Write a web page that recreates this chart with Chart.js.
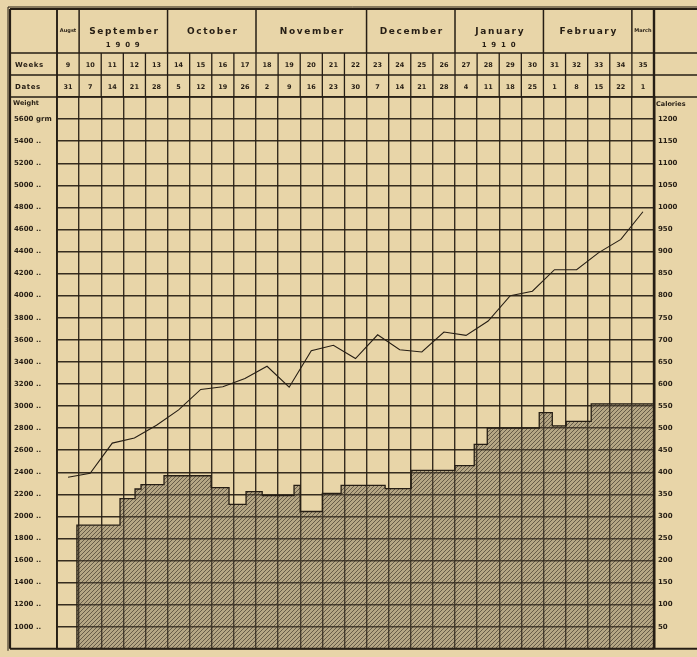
<!DOCTYPE html>
<html><head><meta charset="utf-8">
<script src="https://cdn.jsdelivr.net/npm/chart.js@4.4.0/dist/chart.umd.min.js"></script>
<style>html,body{margin:0;padding:0;background:#e8d5a8;}canvas{display:block}</style>
</head><body>
<canvas id="c" width="697" height="657"></canvas>
<script>
// ---------- data ----------
const weeks = [9,10,11,12,13,14,15,16,17,18,19,20,21,22,23,24,25,26,27,28,29,30,31,32,33,34,35];
const dates = ["31","7","14","21","28","5","12","19","26","2","9","16","23","30","7","14","21","28","4","11","18","25","1","8","15","22","1"];
const monthNames = ["Augst","September","October","November","December","January","February","March"];
const monthYears = ["","1 9 0 9","","","","1 9 1 0","",""];
const monthFirstWeek = [9,10,14,18,23,27,31,35];
const monthLastWeek = [9,13,17,22,26,30,34,35];
// weight (grams), one value per week
const weights = [2355,2390,2664,2710,2825,2965,3150,3175,3250,3360,3170,3500,3550,3430,3645,3510,3490,3670,3640,3770,4000,4040,4235,4235,4390,4510,4760];
// calories, step function: week position where each step starts, and its value
const calorieStepWeek  = [9.4,9.4,11.35,12.03,12.3,13.34,15.47,16.28,17.05,17.78,19.22,19.5,20.5,21.35,23.34,24.52,26.5,27.37,27.96,30.31,30.9,31.53,32.66,35.5];
const calorieStepValue = [0,280,340,362,372,392,365,327,356,347,370,311,352,370,363,404,415,463,500,535,505,515,555,555];
const weightTickValues = [5600,5400,5200,5000,4800,4600,4400,4200,4000,3800,3600,3400,3200,3000,2800,2600,2400,2200,2000,1800,1600,1400,1200,1000];
const weightTickLabels = ["5600 grm","5400 ..","5200 ..","5000 ..","4800 ..","4600 ..","4400 ..","4200 ..","4000 ..","3800 ..","3600 ..","3400 ..","3200 ..","3000 ..","2800 ..","2600 ..","2400 ..","2200 ..","2000 ..","1800 ..","1600 ..","1400 ..","1200 ..","1000 .."];
const calorieTickValues = [1200,1150,1100,1050,1000,950,900,850,800,750,700,650,600,550,500,450,400,350,300,250,200,150,100,50];
const calorieTickLabels = ["1200","1150","1100","1050","1000","950","900","850","800","750","700","650","600","550","500","450","400","350","300","250","200","150","100","50"];

// ---------- style ----------
const INK = '#261e14';
const FONT = '"DejaVu Sans", "Liberation Sans", sans-serif';
const canvas = document.getElementById('c');
const ctx0 = canvas.getContext('2d');
function hatch(){
  const c = document.createElement('canvas'); c.width = 4; c.height = 4;
  const g = c.getContext('2d');
  g.fillStyle = 'rgba(105,96,78,0.40)'; g.fillRect(0,0,4,4);
  g.strokeStyle = 'rgba(35,29,20,0.6)'; g.lineWidth = 0.9;
  g.beginPath();
  g.moveTo(0,4); g.lineTo(4,0);
  g.moveTo(-2,2); g.lineTo(2,-2);
  g.moveTo(2,6); g.lineTo(6,2);
  g.stroke();
  return ctx0.createPattern(c,'repeat');
}

const headerPlugin = {
  id: 'header',
  afterDraw(chart){
    const {ctx, chartArea: ca, scales: {x}} = chart;
    const W = chart.width, L = 10, T = 9, rW = 53, rD = 75;
    ctx.save();
    ctx.strokeStyle = INK; ctx.fillStyle = INK;
    const line = (x1,y1,x2,y2,w) => { ctx.lineWidth = w; ctx.beginPath(); ctx.moveTo(x1,y1); ctx.lineTo(x2,y2); ctx.stroke(); };
    line(L-2, T-2, W, T-2, 1);
    line(L-2, T-2, L-2, ca.bottom+2, 1);
    line(L, T, W, T, 2.2);
    line(L, T, L, ca.bottom, 2.2);
    line(L, rW, W, rW, 1.5);
    line(L, rD, W, rD, 1.5);
    line(L, ca.top, W, ca.top, 1.6);
    line(L, ca.bottom, W, ca.bottom, 2);
    line(ca.left, T, ca.left, ca.bottom, 1.6);
    line(ca.right, T, ca.right, ca.bottom, 2.4);
    weeks.forEach(w => { const xl = x.getPixelForValue(w - 0.5); line(xl, rW, xl, ca.top, 1.3); });
    monthFirstWeek.forEach(w => { const xl = x.getPixelForValue(w - 0.5); line(xl, T, xl, rW, 1.5); });
    ctx.textBaseline = 'middle'; ctx.textAlign = 'center';
    monthNames.forEach((m,i) => {
      const xa = x.getPixelForValue(monthFirstWeek[i] - 0.5), xb = x.getPixelForValue(monthLastWeek[i] + 0.5);
      const xc = (xa + xb) / 2;
      const small = monthFirstWeek[i] === monthLastWeek[i];
      if (small) { ctx.font = 'bold 5px ' + FONT; ctx.letterSpacing = '0px'; ctx.fillText(m, xc, 31); }
      else { ctx.font = 'bold 9px ' + FONT; ctx.letterSpacing = '1.6px'; ctx.fillText(m, xc + 1, 32); }
      if (monthYears[i]) { ctx.font = 'bold 7px ' + FONT; ctx.letterSpacing = '1.2px'; ctx.fillText(monthYears[i], xc, 45); }
    });
    ctx.letterSpacing = '0px';
    ctx.font = 'bold 6.5px ' + FONT;
    weeks.forEach((w,i) => {
      const xc = x.getPixelForValue(w);
      ctx.fillText(String(w), xc, 65);
      ctx.fillText(dates[i], xc, 87);
    });
    ctx.textAlign = 'left'; ctx.font = 'bold 7px ' + FONT; ctx.letterSpacing = '0.6px';
    ctx.fillText('Weeks', 15, 65);
    ctx.fillText('Dates', 15, 87);
    ctx.letterSpacing = '0px';
    ctx.font = 'bold 6.5px ' + FONT;
    ctx.fillText('Weight', 13, 103);
    ctx.fillText('Calories', ca.right + 2, 104);
    ctx.restore();
  }
};

const chart = new Chart(canvas, {
  type: 'line',
  data: {
    datasets: [
      {
        label: 'Weight',
        data: weeks.map((w,i) => ({x: w, y: weights[i]})),
        yAxisID: 'y',
        borderColor: INK, borderWidth: 1.1,
        pointRadius: 0, tension: 0, fill: false, order: 1
      },
      {
        label: 'Calories',
        data: calorieStepWeek.map((w,i) => ({x: w, y: calorieStepValue[i]})),
        yAxisID: 'y1',
        stepped: true,
        borderColor: INK, borderWidth: 1.3,
        backgroundColor: hatch(),
        pointRadius: 0, fill: 'origin', order: 2
      }
    ]
  },
  options: {
    responsive: false, animation: false, devicePixelRatio: 1,
    layout: {padding: {left: 14, right: 0, top: 97, bottom: 7}},
    plugins: {legend: {display: false}, tooltip: {enabled: false}},
    scales: {
      x: {
        type: 'linear', min: 8.5, max: 35.5, position: 'bottom',
        afterBuildTicks: s => { s.ticks = weeks.map(w => ({value: w - 0.5})).concat([{value: 35.5}]); },
        ticks: {display: false},
        grid: {color: 'rgba(38,30,20,0.92)', lineWidth: 1.4, drawTicks: false},
        border: {display: false},
        afterFit: s => { s.height = 0; }
      },
      y: {
        type: 'linear', position: 'left', min: 800, max: 5800,
        ticks: {
          stepSize: 200, autoSkip: false, crossAlign: 'far', padding: 0,
          color: INK, font: {family: FONT, size: 7, weight: 'bold'},
          callback: v => { const i = weightTickValues.indexOf(v); return i < 0 ? '' : weightTickLabels[i]; }
        },
        grid: {color: 'rgba(38,30,20,0.92)', lineWidth: 1.4, drawTicks: false},
        border: {display: true, color: INK, width: 1.6},
        afterFit: s => { s.width = 43; }
      },
      y1: {
        type: 'linear', position: 'right', min: 0, max: 1250,
        ticks: {
          stepSize: 50, autoSkip: false, crossAlign: 'near', padding: 4,
          color: INK, font: {family: FONT, size: 7, weight: 'bold'},
          callback: v => { const i = calorieTickValues.indexOf(v); return i < 0 ? '' : calorieTickLabels[i]; }
        },
        grid: {drawOnChartArea: false, drawTicks: false},
        border: {display: true, color: INK, width: 2.4},
        afterFit: s => { s.width = 43; }
      }
    }
  },
  plugins: [headerPlugin]
});
</script>
</body></html>
